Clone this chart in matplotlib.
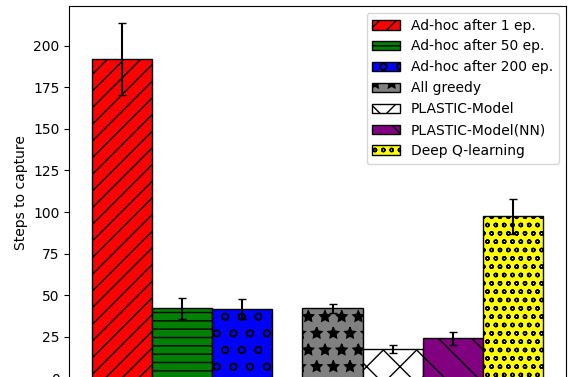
import numpy as np
import matplotlib
matplotlib.use("Agg")
import matplotlib.pyplot as plt

labels = ["Ad-hoc after 1 ep.", "Ad-hoc after 50 ep.", "Ad-hoc after 200 ep.",
          "All greedy", "PLASTIC-Model", "PLASTIC-Model(NN)", "Deep Q-learning"]
means = [192, 42, 41.5, 42, 17.5, 24, 97.5]
errs = [21.5, 6.5, 6, 2.5, 2.5, 4, 10.5]
colors = ["red", "green", "blue", "gray", "white", "purple", "yellow"]
hatches = ["//", "--", "o", "*", "x", "\\", "oo"]

# two groups: ad-hoc learners, then the rest, separated by half a bar
positions = [0, 1, 2, 3.5, 4.5, 5.5, 6.5]

fig = plt.figure(figsize=(5.69, 3.77), dpi=100)
ax = fig.add_axes([0.1218, -0.003, 0.8724, 0.987])

for i in range(len(labels)):
    ax.bar(positions[i], means[i], width=1, color=colors[i], edgecolor="black",
           hatch=hatches[i], yerr=errs[i], capsize=3, label=labels[i])

ax.set_ylim(0, 224)
ax.set_ylabel("Steps to capture")
ax.set_xticks([])
ax.legend(loc="upper right")

fig.savefig("out.png", dpi=100)
